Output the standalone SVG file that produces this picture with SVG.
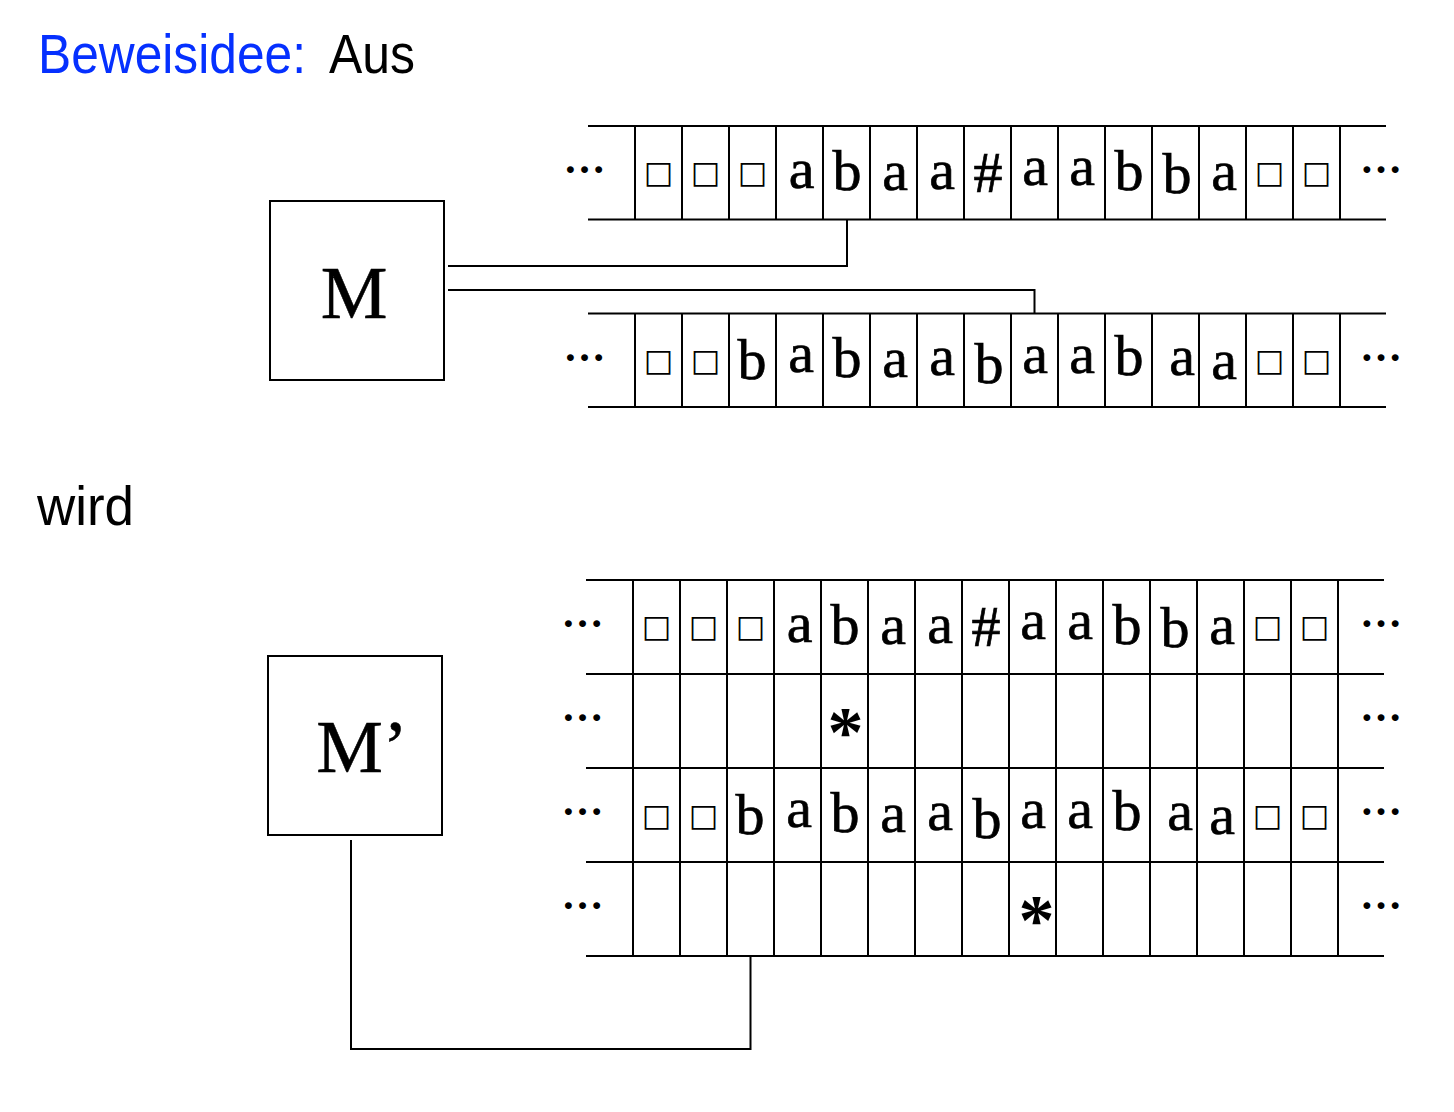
<svg xmlns="http://www.w3.org/2000/svg" width="1454" height="1112" viewBox="0 0 1454 1112">
<style>
.ln{stroke:#000;stroke-width:2;fill:none}
.bx{stroke:#000;stroke-width:2;fill:#fff}
.sy{font-family:"Liberation Serif",serif;font-size:58px;text-anchor:middle;fill:#000;stroke:#000;stroke-width:0.7}
.sq{font-family:"DejaVu Sans",sans-serif;font-size:31px;text-anchor:middle;fill:#000}
.dt{font-family:"Liberation Serif",serif;font-size:42px;font-weight:bold;text-anchor:middle;fill:#000}
.st{font-family:"Liberation Serif",serif;font-size:72px;font-weight:bold;text-anchor:middle;fill:#000}
.mm{font-family:"Liberation Serif",serif;font-size:75px;text-anchor:middle;fill:#000;stroke:#000;stroke-width:0.5}
.tt{font-family:"Liberation Sans",sans-serif;font-size:55px;fill:#000}
</style>
<rect width="1454" height="1112" fill="#fff"/>
<g id="title">
<text class="tt" x="38" y="73" style="fill:#0530FF" textLength="268" lengthAdjust="spacingAndGlyphs">Beweisidee:</text>
<text class="tt" x="329" y="73" textLength="86" lengthAdjust="spacingAndGlyphs">Aus</text>
</g>
<text id="wird" class="tt" x="37" y="525" textLength="97" lengthAdjust="spacingAndGlyphs">wird</text>

<g id="M">
<rect class="bx" x="270" y="201" width="174" height="179"/>
<text class="mm" x="354" y="318">M</text>
</g>

<g id="tape1">
<path class="ln" d="M588 126H1386M588 219.5H1386M635 126V219.5M682 126V219.5M729 126V219.5M776 126V219.5M823 126V219.5M870 126V219.5M917 126V219.5M964 126V219.5M1011 126V219.5M1058 126V219.5M1105 126V219.5M1152 126V219.5M1199 126V219.5M1246 126V219.5M1293 126V219.5M1340 126V219.5"/>
<text class="dt" x="584.5" y="173">…</text>
<text class="dt" x="1381" y="173">…</text>
<text class="sq" x="658.5" y="183">□</text>
<text class="sq" x="705.5" y="183">□</text>
<text class="sq" x="752.5" y="183">□</text>
<text class="sy" x="801.5" y="188">a</text>
<text class="sy" x="847" y="190">b</text>
<text class="sy" x="895" y="190">a</text>
<text class="sy" x="942" y="189">a</text>
<text class="sy" x="988" y="192">#</text>
<text class="sy" x="1035" y="185">a</text>
<text class="sy" x="1082" y="185">a</text>
<text class="sy" x="1129" y="190">b</text>
<text class="sy" x="1177" y="193">b</text>
<text class="sy" x="1224" y="190">a</text>
<text class="sq" x="1269.5" y="183">□</text>
<text class="sq" x="1316.5" y="183">□</text>
</g>

<g id="tape2">
<path class="ln" d="M588 313.5H1386M588 407H1386M635 313.5V407M682 313.5V407M729 313.5V407M776 313.5V407M823 313.5V407M870 313.5V407M917 313.5V407M964 313.5V407M1011 313.5V407M1058 313.5V407M1105 313.5V407M1152 313.5V407M1199 313.5V407M1246 313.5V407M1293 313.5V407M1340 313.5V407"/>
<text class="dt" x="584.5" y="361">…</text>
<text class="dt" x="1381" y="361">…</text>
<text class="sq" x="658.5" y="371">□</text>
<text class="sq" x="705.5" y="371">□</text>
<text class="sy" x="752" y="379">b</text>
<text class="sy" x="801" y="372">a</text>
<text class="sy" x="847" y="377">b</text>
<text class="sy" x="895" y="377">a</text>
<text class="sy" x="942" y="375">a</text>
<text class="sy" x="989" y="383">b</text>
<text class="sy" x="1035" y="373">a</text>
<text class="sy" x="1082" y="373">a</text>
<text class="sy" x="1129" y="375">b</text>
<text class="sy" x="1182" y="375">a</text>
<text class="sy" x="1224" y="379">a</text>
<text class="sq" x="1269.5" y="371">□</text>
<text class="sq" x="1316.5" y="371">□</text>
</g>

<g id="Mprime">
<rect class="bx" x="268" y="656" width="174" height="179"/>
<text class="mm" x="362" y="772">M’</text>
</g>

<g id="tape3">
<path class="ln" d="M586 580H1384M586 674H1384M586 768H1384M586 862H1384M586 956H1384M633 580V956M680 580V956M727 580V956M774 580V956M821 580V956M868 580V956M915 580V956M962 580V956M1009 580V956M1056 580V956M1103 580V956M1150 580V956M1197 580V956M1244 580V956M1291 580V956M1338 580V956"/>
<text class="dt" x="582.5" y="627">…</text>
<text class="dt" x="1381" y="627">…</text>
<text class="dt" x="582.5" y="721">…</text>
<text class="dt" x="1381" y="721">…</text>
<text class="dt" x="582.5" y="815">…</text>
<text class="dt" x="1381" y="815">…</text>
<text class="dt" x="582.5" y="909">…</text>
<text class="dt" x="1381" y="909">…</text>
<text class="sq" x="656.5" y="637">□</text>
<text class="sq" x="703.5" y="637">□</text>
<text class="sq" x="750.5" y="637">□</text>
<text class="sy" x="799.5" y="642">a</text>
<text class="sy" x="845" y="644">b</text>
<text class="sy" x="893" y="644">a</text>
<text class="sy" x="940" y="643">a</text>
<text class="sy" x="986" y="646">#</text>
<text class="sy" x="1033" y="639">a</text>
<text class="sy" x="1080" y="639">a</text>
<text class="sy" x="1127" y="644">b</text>
<text class="sy" x="1175" y="647">b</text>
<text class="sy" x="1222" y="644">a</text>
<text class="sq" x="1267.5" y="637">□</text>
<text class="sq" x="1314.5" y="637">□</text>
<text class="st" x="845.5" y="756">*</text>
<text class="sq" x="656.5" y="826">□</text>
<text class="sq" x="703.5" y="826">□</text>
<text class="sy" x="750" y="834">b</text>
<text class="sy" x="799" y="827">a</text>
<text class="sy" x="845" y="832">b</text>
<text class="sy" x="893" y="832">a</text>
<text class="sy" x="940" y="830">a</text>
<text class="sy" x="987" y="838">b</text>
<text class="sy" x="1033" y="828">a</text>
<text class="sy" x="1080" y="828">a</text>
<text class="sy" x="1127" y="830">b</text>
<text class="sy" x="1180" y="830">a</text>
<text class="sy" x="1222" y="834">a</text>
<text class="sq" x="1267.5" y="826">□</text>
<text class="sq" x="1314.5" y="826">□</text>
<text class="st" x="1036.5" y="944">*</text>
</g>

<g id="connectors">
<path class="ln" d="M448 266H847V219.5"/>
<path class="ln" d="M448 290H1034.5V313.5"/>
<path class="ln" d="M351 840V1049H750.5V956"/>
</g>
</svg>
